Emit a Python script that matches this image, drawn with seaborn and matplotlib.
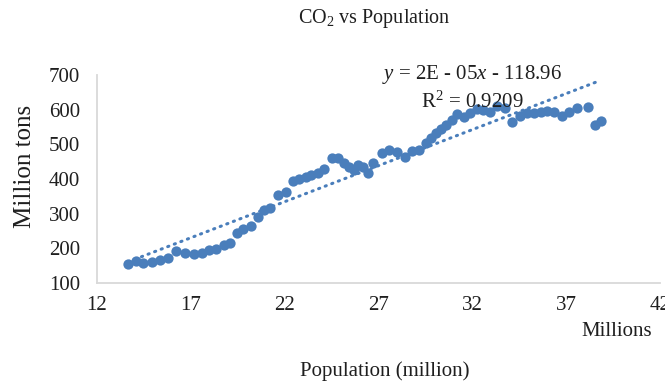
import matplotlib
matplotlib.use("Agg")
import matplotlib.pyplot as plt
import seaborn as sns
import numpy as np
import pandas as pd

# Population (millions) and CO2 (million tons)
population = [13.67, 14.08, 14.47, 14.91, 15.36, 15.78, 16.21, 16.69, 17.15, 17.58,
              17.99, 18.36, 18.75, 19.10, 19.46, 19.80, 20.22, 20.60, 20.88, 21.22,
              21.66, 22.07, 22.44, 22.79, 23.14, 23.40, 23.78, 24.12, 24.51, 24.84,
              25.16, 25.43, 25.69, 25.93, 26.20, 26.46, 26.72, 27.17, 27.56, 27.97,
              28.41, 28.77, 29.14, 29.53, 29.82, 30.06, 30.33, 30.62, 30.92, 31.18,
              31.53, 31.88, 32.25, 32.59, 32.94, 33.31, 33.74, 34.11, 34.54, 34.90,
              35.29, 35.66, 36.00, 36.35, 36.76, 37.15, 37.60, 38.14, 38.56, 38.83]
co2 = [156.2, 164.9, 159.1, 161.4, 166.3, 171.2, 193.7, 186.5, 184.5, 187.1,
       194.3, 197.2, 209.6, 215.4, 243.3, 256.3, 265.8, 291.2, 311.4, 316.9,
       353.8, 363.3, 394.2, 399.9, 405.7, 411.5, 418.1, 428.8, 459.6, 461.9,
       447.5, 434.5, 425.9, 440.3, 434.5, 418.7, 446.1, 474.1, 483.6, 478.7,
       464.3, 480.7, 485.0, 502.9, 519.6, 532.6, 545.6, 555.7, 570.1, 587.4,
       580.2, 590.3, 603.3, 600.4, 594.0, 610.5, 603.8, 565.2, 581.6, 589.4,
       591.7, 594.6, 595.2, 594.0, 581.6, 593.2, 606.1, 607.6, 557.1, 568.1]
x_ticks = [12, 17, 22, 27, 32, 37, 42]
y_ticks = [100, 200, 300, 400, 500, 600, 700]

df = pd.DataFrame({"Population": population, "CO2": co2})

sns.set_theme(style="white")
plt.rcParams['font.family'] = ['Liberation Serif', 'DejaVu Serif']
plt.rcParams['mathtext.fontset'] = 'custom'
plt.rcParams['mathtext.rm'] = 'Liberation Serif'
plt.rcParams['mathtext.it'] = 'Liberation Serif:italic'

blue = '#4A7EBB'
text_c = '#1f1f1f'

fig = plt.figure(figsize=(6.65, 3.87), dpi=100)
ax = fig.add_axes([97/665, 1-283/387, (660-97)/665, (283-75)/387])

sns.regplot(data=df, x="Population", y="CO2", ax=ax, scatter=False, ci=None,
            line_kws=dict(color=blue, linestyle=(0, (0.4, 1.9)), linewidth=2.2,
                          dash_capstyle='round'))
sns.scatterplot(data=df, x="Population", y="CO2", ax=ax, color=blue, s=55,
                edgecolor=blue, linewidth=0, zorder=3)

ax.set_xlim(12, 42)
ax.set_ylim(100, 700)
ax.set_xticks(x_ticks)
ax.set_yticks(y_ticks)
ax.tick_params(axis='both', length=0, labelsize=15, labelcolor=text_c)
ax.tick_params(axis='x', pad=9)
ax.tick_params(axis='y', pad=12)
ax.set_xlabel("")
ax.set_ylabel("")
for s in ['top', 'right']:
    ax.spines[s].set_visible(False)
for s in ['left', 'bottom']:
    ax.spines[s].set_color('#d9d9d9')
    ax.spines[s].set_linewidth(1.3)

fig.text(374/665, 1-19/387, "CO$_2$ vs Population", ha='center', va='center',
         fontsize=14.5, color=text_c)
fig.text(25/665, 1-166/387, "Million tons", rotation=90, ha='center', va='center',
         fontsize=18, color=text_c)
fig.text(617/665, 1-331/387, "Millions", ha='center', va='center',
         fontsize=15, color=text_c)
fig.text(385/665, 1-371/387, "Population (million)", ha='center', va='center',
         fontsize=15, color=text_c)
fig.text(472/665, 1-75/387, "$y$ = 2E - 05$x$ - 118.96", ha='center', va='center',
         fontsize=15, color=text_c)
fig.text(472/665, 1-102/387, "R$^2$ = 0.9209", ha='center', va='center',
         fontsize=15, color=text_c)

fig.savefig("out.png", dpi=100)
